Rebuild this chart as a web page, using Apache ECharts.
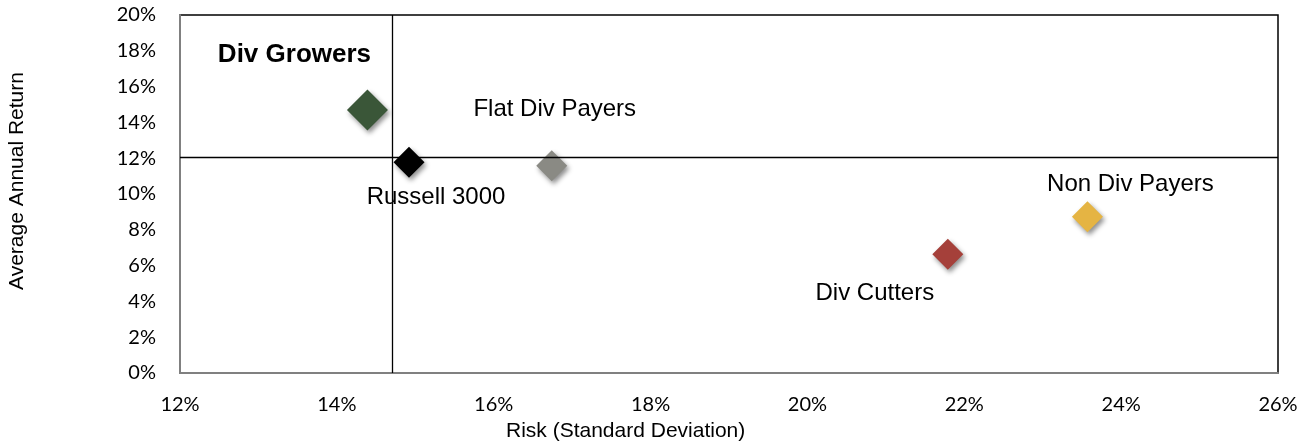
<!DOCTYPE html>
<html><head><meta charset="utf-8">
<script src="https://cdn.jsdelivr.net/npm/echarts@6/dist/echarts.min.js"></script>
<style>html,body{margin:0;padding:0;background:#fff}#c{width:1315px;height:446px}</style>
</head><body><div id="c"></div>
<script>
const names = ['Div Growers','Russell 3000','Flat Div Payers','Div Cutters','Non Div Payers'];
const risk = [14.39, 14.92, 16.74, 21.79, 23.57];
const ret = [14.69, 11.77, 11.58, 6.63, 8.73];
const colors = ['#3a5638','#000000','#8a8a84','#a5403a','#e5b443'];
const sizes = [41, 31, 31, 31, 31];
const labelOffsets = [[-73,-55],[27,35],[3,-56],[-73,39],[43,-32]];
const crossRisk = 14.71;
const crossReturn = 12.08;
const xTicks = {min:12, max:26, interval:2};
const yTicks = {min:0, max:20, interval:2};

const data = names.map((n,i)=>({
  name:n, value:[risk[i], ret[i]], symbolSize:sizes[i],
  itemStyle:{color:colors[i], opacity:1},
  label:{show:true, position:'inside', offset:labelOffsets[i], formatter:n,
    color:'#000', opacity:1, fontFamily:'Liberation Sans, Arial', fontSize: i===0?26:24, fontWeight: i===0?'bold':'normal'}
}));

const chart = echarts.init(document.getElementById('c'));
const tickFont = {fontFamily:'Lato, sans-serif', fontSize:20, color:'#000'};
chart.setOption({
  animation:false,
  grid:{left:180, right:37, top:15, bottom:73, show:true, borderColor:'#000', borderWidth:1.5},
  xAxis:{type:'value', min:xTicks.min, max:xTicks.max, interval:xTicks.interval,
    axisLabel:Object.assign({formatter:'{value}%', margin:22}, tickFont),
    axisLine:{show:true, lineStyle:{color:'#808080', width:2}}, axisTick:{show:false}, splitLine:{show:false}},
  yAxis:{type:'value', min:yTicks.min, max:yTicks.max, interval:yTicks.interval,
    axisLabel:Object.assign({formatter:'{value}%', margin:24}, tickFont),
    axisLine:{show:true, lineStyle:{color:'#808080', width:2}}, axisTick:{show:false}, splitLine:{show:false}},
  graphic:[
    {type:'text', left:506, top:421, style:{text:'Risk (Standard Deviation)', font:'21px "Liberation Sans", Arial', fill:'#000'}},
    {type:'text', x:17, y:181, rotation:Math.PI/2, style:{text:'Average Annual Return', font:'21px "Liberation Sans", Arial', fill:'#000', textAlign:'center', textVerticalAlign:'middle'}}
  ],
  series:[{
    type:'scatter', symbol:'diamond', data:data,
    itemStyle:{opacity:1, shadowColor:'rgba(0,0,0,0.45)', shadowBlur:5, shadowOffsetX:2, shadowOffsetY:3},
    markLine:{silent:true, symbol:'none', label:{show:false},
      lineStyle:{color:'#000', width:1.3, type:'solid', opacity:1},
      data:[{xAxis:crossRisk},{yAxis:crossReturn}]},
    z:3
  }]
});
</script></body></html>
